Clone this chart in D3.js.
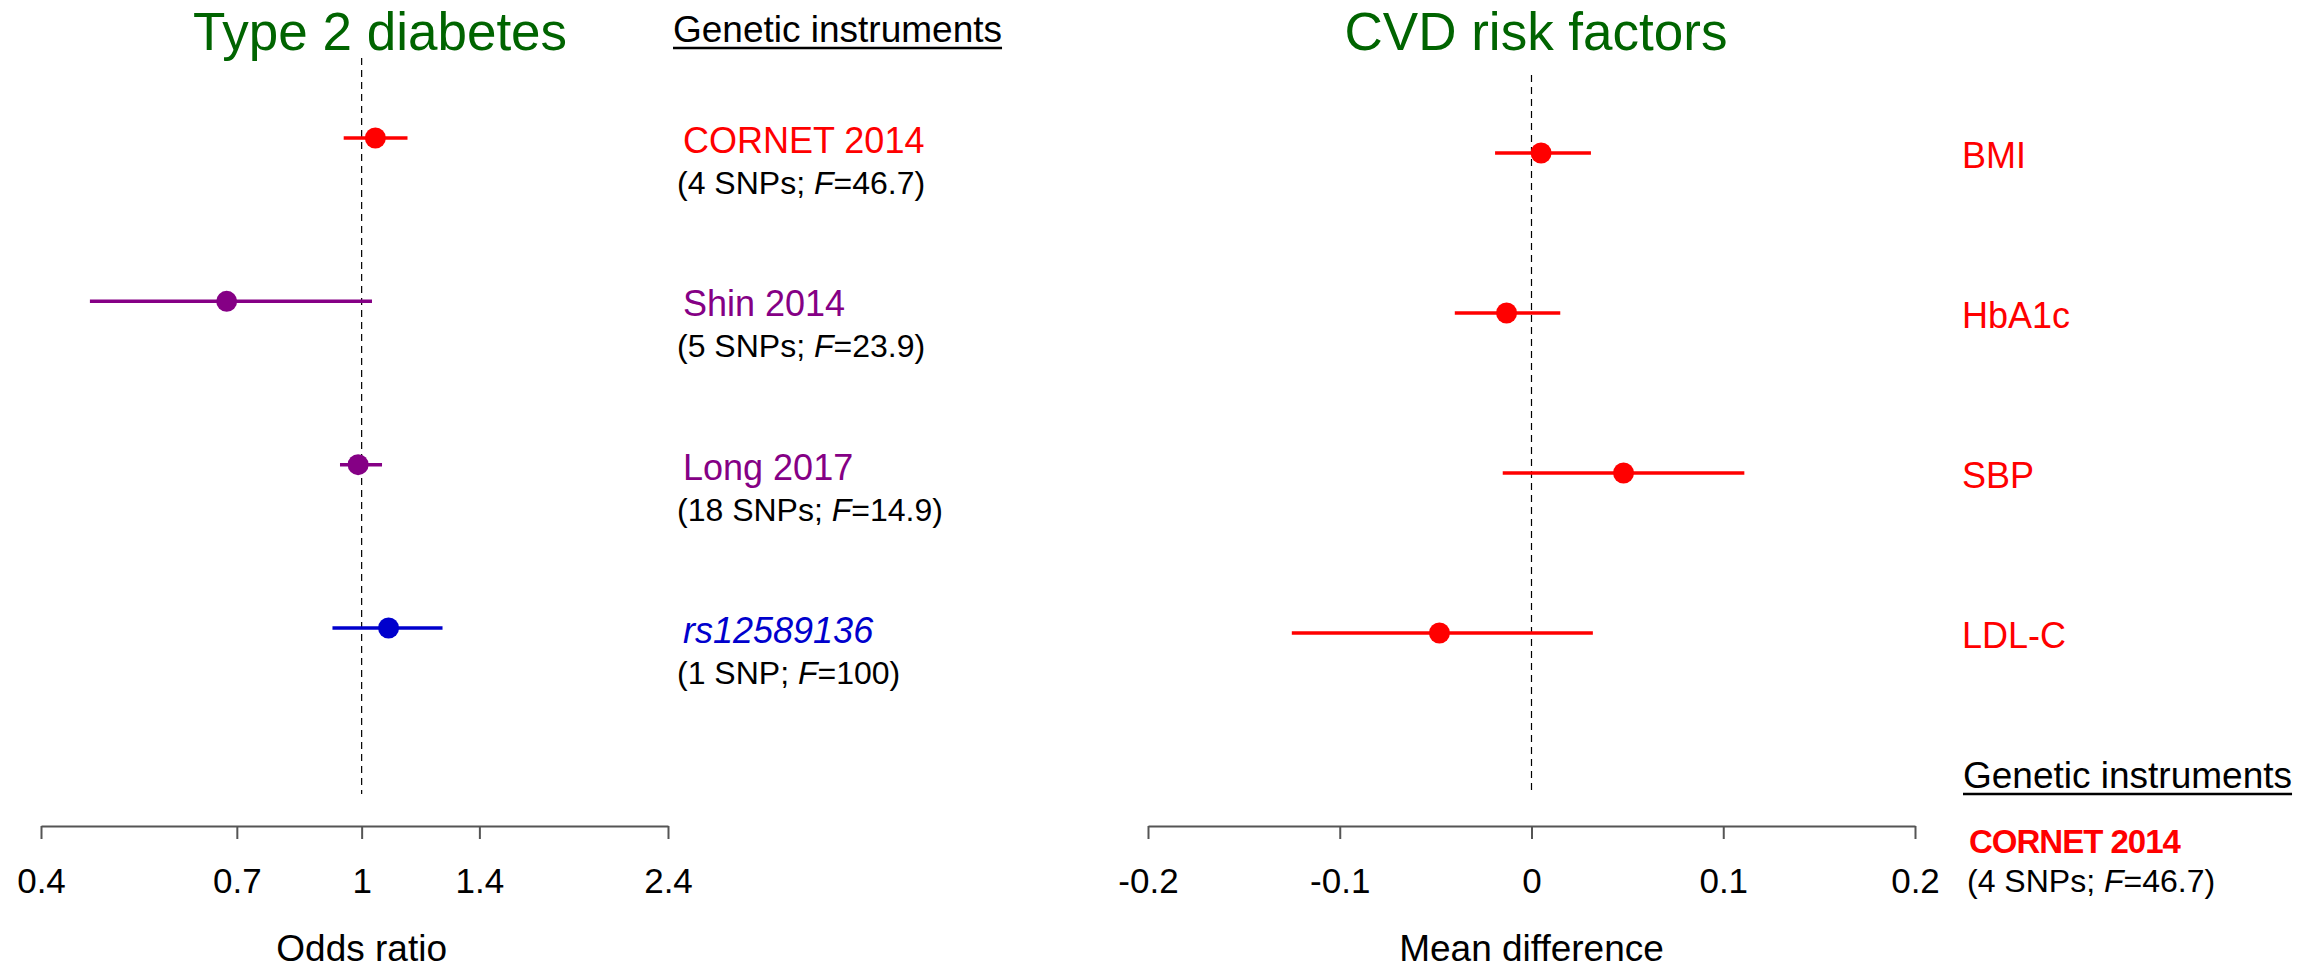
<!DOCTYPE html>
<html>
<head>
<meta charset="utf-8">
<script src="https://cdn.jsdelivr.net/npm/d3@7"></script>
<style>
  body { margin: 0; background: #fff; }
  svg { display: block; font-family: "Liberation Sans", Arial, Helvetica, sans-serif; }
</style>
</head>
<body>
<svg></svg>
<script>
var width = 2307,
    height = 971;

// left panel: type 2 diabetes, odds ratios
var t2dStudies = ["CORNET 2014", "Shin 2014", "Long 2017", "rs12589136"];
var t2dSnps    = [4, 5, 18, 1];
var t2dFstat   = ["46.7", "23.9", "14.9", "100"];
var t2dOR      = [1.04, 0.68, 0.99, 1.08];
var t2dLower   = [0.95, 0.46, 0.94, 0.92];
var t2dUpper   = [1.14, 1.03, 1.06, 1.26];
var orTicks    = [0.4, 0.7, 1, 1.4, 2.4];

// right panel: CVD risk factors, mean differences
var cvdFactors = ["BMI", "HbA1c", "SBP", "LDL-C"];
var cvdMean    = [0.005, -0.013, 0.048, -0.048];
var cvdLower   = [-0.019, -0.040, -0.015, -0.125];
var cvdUpper   = [0.031, 0.015, 0.111, 0.032];
var mdTicks    = [-0.2, -0.1, 0, 0.1, 0.2];

var studyColor = d3.scaleOrdinal()
  .domain(t2dStudies)
  .range(["#ff0000", "#850085", "#850085", "#0000cd"]);

var green = "#006400";

var svg = d3.select("svg")
  .attr("width", width)
  .attr("height", height);

var xL = d3.scaleLog().domain([0.4, 2.4]).range([41, 668]);
var yL = d3.scalePoint().domain(t2dStudies).range([138, 628]);
var xR = d3.scaleLinear().domain([-0.2, 0.2]).range([1148, 1915]);
var yR = d3.scalePoint().domain(cvdFactors).range([153, 633]);

var axisY = 826;

function drawAxis(x, ticks, fmt, label) {
  var g = svg.append("g")
    .attr("transform", "translate(0," + axisY + ")")
    .call(d3.axisBottom(x)
      .tickValues(ticks)
      .tickFormat(fmt)
      .tickSize(13)
      .tickSizeOuter(0)
      .tickPadding(29));
  g.select(".domain").attr("stroke", "#555").attr("stroke-width", 2);
  g.selectAll(".tick line").attr("stroke", "#555").attr("stroke-width", 2);
  g.selectAll(".tick text")
    .attr("fill", "#000")
    .style("font-size", "35px")
    .style("font-family", "'Liberation Sans', Arial, sans-serif");
  svg.append("text")
    .attr("x", x(label.at))
    .attr("y", 961)
    .attr("text-anchor", "middle")
    .style("font-size", "37px")
    .text(label.text);
}

function underlined(x, y, text) {
  var t = svg.append("text")
    .attr("x", x)
    .attr("y", y)
    .style("font-size", "37px")
    .text(text);
  var w = t.node().getComputedTextLength();
  svg.append("line")
    .attr("x1", x).attr("x2", x + w)
    .attr("y1", y + 6).attr("y2", y + 6)
    .attr("stroke", "#000")
    .attr("stroke-width", 2.5);
}

function snpText(sel, n, f) {
  sel.append("tspan").text("(" + n + (n > 1 ? " SNPs; " : " SNP; "));
  sel.append("tspan").style("font-style", "italic").text("F");
  sel.append("tspan").text("=" + f + ")");
}

// ---- left panel ----
svg.append("text")
  .attr("x", 380).attr("y", 50)
  .attr("text-anchor", "middle")
  .attr("fill", green)
  .style("font-size", "53px")
  .text("Type 2 diabetes");

svg.append("line")
  .attr("x1", xL(1)).attr("x2", xL(1))
  .attr("y1", 58).attr("y2", 794)
  .attr("stroke", "#000")
  .attr("stroke-width", 1.2)
  .attr("stroke-dasharray", "7,5");

var left = svg.append("g");
t2dStudies.forEach(function(s, i) {
  var c = studyColor(s);
  left.append("line")
    .attr("x1", xL(t2dLower[i])).attr("x2", xL(t2dUpper[i]))
    .attr("y1", yL(s)).attr("y2", yL(s))
    .attr("stroke", c)
    .attr("stroke-width", 3.5);
  left.append("circle")
    .attr("cx", xL(t2dOR[i]))
    .attr("cy", yL(s))
    .attr("r", 10.5)
    .attr("fill", c);
  left.append("text")
    .attr("x", 683).attr("y", yL(s) + 15)
    .attr("fill", c)
    .style("font-size", "36px")
    .style("font-style", s.indexOf("rs") === 0 ? "italic" : "normal")
    .text(s);
  left.append("text")
    .attr("x", 677).attr("y", yL(s) + 56)
    .style("font-size", "32px")
    .call(snpText, t2dSnps[i], t2dFstat[i]);
});

underlined(673, 42, "Genetic instruments");
drawAxis(xL, orTicks, function(d) { return d; }, {at: 1, text: "Odds ratio"});

// ---- right panel ----
svg.append("text")
  .attr("x", 1536).attr("y", 50)
  .attr("text-anchor", "middle")
  .attr("fill", green)
  .style("font-size", "53px")
  .text("CVD risk factors");

svg.append("line")
  .attr("x1", xR(0)).attr("x2", xR(0))
  .attr("y1", 75).attr("y2", 795)
  .attr("stroke", "#000")
  .attr("stroke-width", 1.2)
  .attr("stroke-dasharray", "7,5");

var right = svg.append("g");
cvdFactors.forEach(function(f, i) {
  right.append("line")
    .attr("x1", xR(cvdLower[i])).attr("x2", xR(cvdUpper[i]))
    .attr("y1", yR(f)).attr("y2", yR(f))
    .attr("stroke", "#ff0000")
    .attr("stroke-width", 3.5);
  right.append("circle")
    .attr("cx", xR(cvdMean[i]))
    .attr("cy", yR(f))
    .attr("r", 10.5)
    .attr("fill", "#ff0000");
  right.append("text")
    .attr("x", 1962).attr("y", yR(f) + 15)
    .attr("fill", "#ff0000")
    .style("font-size", "36px")
    .text(f);
});

drawAxis(xR, mdTicks, function(d) { return d; }, {at: 0, text: "Mean difference"});

underlined(1963, 788, "Genetic instruments");
svg.append("text")
  .attr("x", 1969).attr("y", 853)
  .attr("fill", "#ff0000")
  .style("font-size", "33px")
  .style("font-weight", "bold")
  .style("letter-spacing", "-1px")
  .text(t2dStudies[0]);
svg.append("text")
  .attr("x", 1967).attr("y", 892)
  .style("font-size", "32px")
  .call(snpText, t2dSnps[0], t2dFstat[0]);
</script>
</body>
</html>
